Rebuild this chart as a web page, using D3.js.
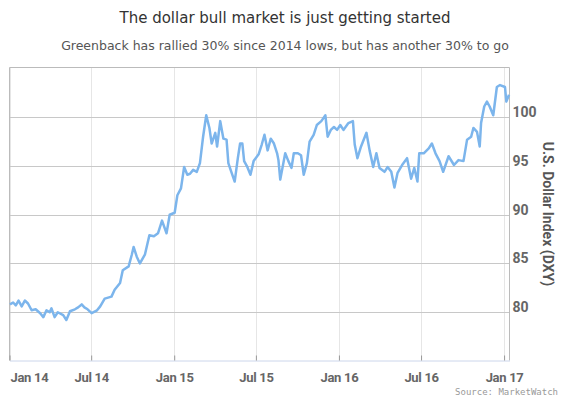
<!DOCTYPE html>
<html>
<head>
<meta charset="utf-8">
<script src="https://cdn.jsdelivr.net/npm/d3@7"></script>
<style>
  body { margin: 0; background: #fff; }
  svg { display: block; }
</style>
</head>
<body>
<div class="chart"></div>
<script>
// DXY readings, roughly weekly
const dates = [
  "2014-01-02","2014-01-09","2014-01-15","2014-01-21","2014-01-28","2014-02-04","2014-02-11","2014-02-19","2014-02-28","2014-03-10",
  "2014-03-17","2014-03-24","2014-03-31","2014-04-04","2014-04-11","2014-04-18","2014-04-30","2014-05-07","2014-05-15","2014-05-26",
  "2014-06-02","2014-06-10","2014-06-16","2014-06-23","2014-07-02","2014-07-14","2014-07-21","2014-07-31","2014-08-15","2014-08-22",
  "2014-09-03","2014-09-09","2014-09-22","2014-09-29","2014-10-03","2014-10-10","2014-10-17","2014-10-28","2014-11-07","2014-11-17",
  "2014-11-26","2014-12-05","2014-12-15","2014-12-22","2015-01-02","2015-01-08","2015-01-16","2015-01-23","2015-01-30","2015-02-05",
  "2015-02-12","2015-02-20","2015-02-27","2015-03-06","2015-03-13","2015-03-20","2015-03-25","2015-04-02","2015-04-06","2015-04-13",
  "2015-04-20","2015-04-27","2015-05-01","2015-05-06","2015-05-15","2015-05-22","2015-05-27","2015-06-01","2015-06-05","2015-06-12",
  "2015-06-19","2015-06-26","2015-07-07","2015-07-14","2015-07-20","2015-07-27","2015-08-03","2015-08-10","2015-08-17","2015-08-20",
  "2015-08-24","2015-09-04","2015-09-11","2015-09-18","2015-09-23","2015-10-02","2015-10-09","2015-10-15","2015-10-22","2015-10-28",
  "2015-11-06","2015-11-13","2015-11-23","2015-12-02","2015-12-07","2015-12-14","2015-12-21","2015-12-28","2016-01-04","2016-01-11",
  "2016-01-22","2016-02-01","2016-02-05","2016-02-11","2016-02-19","2016-03-02","2016-03-09","2016-03-17","2016-03-24","2016-03-31",
  "2016-04-11","2016-04-18","2016-04-26","2016-05-03","2016-05-10","2016-05-20","2016-05-31","2016-06-09","2016-06-16","2016-06-23",
  "2016-06-27","2016-07-07","2016-07-18","2016-07-25","2016-08-02","2016-08-11","2016-08-19","2016-08-31","2016-09-12","2016-09-22",
  "2016-10-03","2016-10-11","2016-10-20","2016-10-25","2016-11-02","2016-11-08","2016-11-11","2016-11-18","2016-11-24","2016-11-30",
  "2016-12-08","2016-12-16","2016-12-23","2017-01-03","2017-01-06","2017-01-12"
];
const values = [
  80.8, 81.0, 80.7, 81.2, 80.6, 81.2, 80.9, 80.2, 80.3, 79.9,
  79.5, 80.2, 80.0, 80.4, 79.5, 80.0, 79.7, 79.2, 80.1, 80.3,
  80.5, 80.8, 80.5, 80.3, 79.9, 80.2, 80.6, 81.4, 81.6, 82.3,
  83.0, 84.3, 84.7, 85.9, 86.7, 85.7, 85.0, 85.9, 87.9, 87.8,
  88.1, 89.4, 88.1, 90.0, 90.2, 92.0, 92.7, 94.9, 94.1, 94.2,
  94.6, 94.4, 95.3, 98.0, 100.2, 98.9, 97.3, 98.4, 97.0, 99.6,
  97.8, 97.7, 95.3, 94.6, 93.4, 95.8, 97.3, 97.3, 95.5, 94.9,
  94.1, 95.5, 96.2, 97.2, 98.2, 96.6, 97.8, 97.3, 96.3, 95.6,
  93.6, 96.3, 95.5, 94.8, 96.3, 96.3, 96.1, 94.1, 95.3, 97.5,
  98.2, 99.2, 99.6, 100.2, 98.0, 98.7, 99.0, 98.7, 99.2, 98.7,
  99.4, 99.6, 97.2, 95.8, 97.0, 98.4, 96.6, 94.9, 96.3, 94.8,
  94.4, 94.9, 94.4, 92.8, 94.3, 95.1, 95.8, 93.7, 94.8, 93.4,
  96.3, 96.3, 96.8, 97.3, 96.3, 95.5, 94.4, 96.0, 95.1, 95.6,
  95.5, 97.7, 98.0, 98.9, 98.5, 97.0, 99.4, 101.1, 101.6, 101.1,
  100.2, 103.1, 103.3, 103.1, 101.6, 102.3
];

const xTicks = ["2014-01-01","2014-07-01","2015-01-01","2015-07-01","2016-01-01","2016-07-01","2017-01-01"];
const xTickLabels = ["Jan 14","Jul 14","Jan 15","Jul 15","Jan 16","Jul 16","Jan 17"];
const yTicks = [80, 85, 90, 95, 100];
const xDomain = ["2014-01-01","2017-01-13"];
const yDomain = [75.05, 105.1];

const title = "The dollar bull market is just getting started";
const subtitle = "Greenback has rallied 30% since 2014 lows, but has another 30% to go";
const yTitle = "U.S. Dollar Index (DXY)";
const source = "Source: MarketWatch";

// sizes
const w = 569;
const h = 398;
const pLeft = 9.5, pRight = 509.5, pTop = 67.5, pBottom = 360.5;

const parse = d3.timeParse("%Y-%m-%d");
const data = dates.map((d, i) => ({ date: parse(d), value: values[i] }));

const svg = d3.select(".chart").append("svg")
  .attr("width", w)
  .attr("height", h);

const xScale = d3.scaleTime()
  .domain(xDomain.map(parse))
  .range([pLeft, pRight]);

const yScale = d3.scaleLinear()
  .domain(yDomain)
  .range([pBottom, pTop]);

// titles
svg.append("text")
  .attr("x", 285).attr("y", 23)
  .attr("text-anchor", "middle")
  .style("font-family", "DejaVu Sans")
  .style("font-size", "15px")
  .style("fill", "#333")
  .text(title);

svg.append("text")
  .attr("x", 285).attr("y", 50)
  .attr("text-anchor", "middle")
  .style("font-family", "DejaVu Sans")
  .style("font-size", "12.5px")
  .style("fill", "#555")
  .text(subtitle);

// vertical grid
svg.append("g")
  .selectAll("line")
  .data(xTicks.map(parse))
  .enter().append("line")
  .attr("x1", d => Math.round(xScale(d)) + 0.5)
  .attr("x2", d => Math.round(xScale(d)) + 0.5)
  .attr("y1", pTop).attr("y2", pBottom)
  .style("stroke", "#e6e6e6");

// horizontal grid
svg.append("g")
  .selectAll("line")
  .data(yTicks)
  .enter().append("line")
  .attr("x1", pLeft).attr("x2", pRight)
  .attr("y1", d => Math.round(yScale(d)) + 0.5)
  .attr("y2", d => Math.round(yScale(d)) + 0.5)
  .style("stroke", "#c8c8c8");

// plot border (top, left, right)
svg.append("path")
  .attr("d", `M${pLeft},${pBottom}V${pTop}H${pRight}V${pBottom}`)
  .style("fill", "none")
  .style("stroke", "#bbb");

// x axis
const xAxis = d3.axisBottom(xScale)
  .tickValues(xTicks.map(parse))
  .tickSizeInner(-5)
  .tickSizeOuter(0)
  .tickPadding(12.5)
  .tickFormat((d, i) => xTickLabels[i]);

const gx = svg.append("g")
  .attr("transform", `translate(0,${pBottom})`)
  .call(xAxis);
gx.select(".domain").style("stroke", "#ccd6eb");
gx.selectAll(".tick line").style("stroke", "#999");
gx.selectAll(".tick text")
  .style("font-family", "Roboto")
  .style("font-weight", "bold")
  .style("font-size", "13px")
  .style("letter-spacing", "-0.3px")
  .style("fill", "#666")
  .attr("text-anchor", (d, i) => i === 0 ? "start" : "middle")
  .attr("dx", (d, i) => i === 0 ? 0.5 : 0);

// y axis labels on the right
const yAxis = d3.axisRight(yScale)
  .tickValues(yTicks)
  .tickSize(0)
  .tickPadding(3);

const gy = svg.append("g")
  .attr("transform", `translate(${pRight},0)`)
  .call(yAxis);
gy.select(".domain").remove();
gy.selectAll(".tick text")
  .attr("dy", "-0.05em")
  .style("font-family", "Roboto")
  .style("font-weight", "bold")
  .style("font-size", "14px")
  .style("fill", "#666");

svg.append("text")
  .attr("transform", `translate(543,${(pTop + pBottom) / 2}) rotate(90)`)
  .attr("text-anchor", "middle")
  .style("font-family", "Roboto")
  .style("font-weight", "bold")
  .style("font-size", "14px")
  .style("fill", "#555")
  .text(yTitle);

// the line
const line = d3.line()
  .x(d => xScale(d.date))
  .y(d => yScale(d.value));

svg.append("path")
  .datum(data)
  .attr("d", line)
  .style("fill", "none")
  .style("stroke", "#7cb5ec")
  .style("stroke-width", 2.5)
  .style("stroke-linejoin", "round");

svg.append("text")
  .attr("x", 558).attr("y", 395)
  .attr("text-anchor", "end")
  .style("font-family", "DejaVu Sans Mono")
  .style("font-size", "9px")
  .style("fill", "#999")
  .text(source);
</script>
</body>
</html>
